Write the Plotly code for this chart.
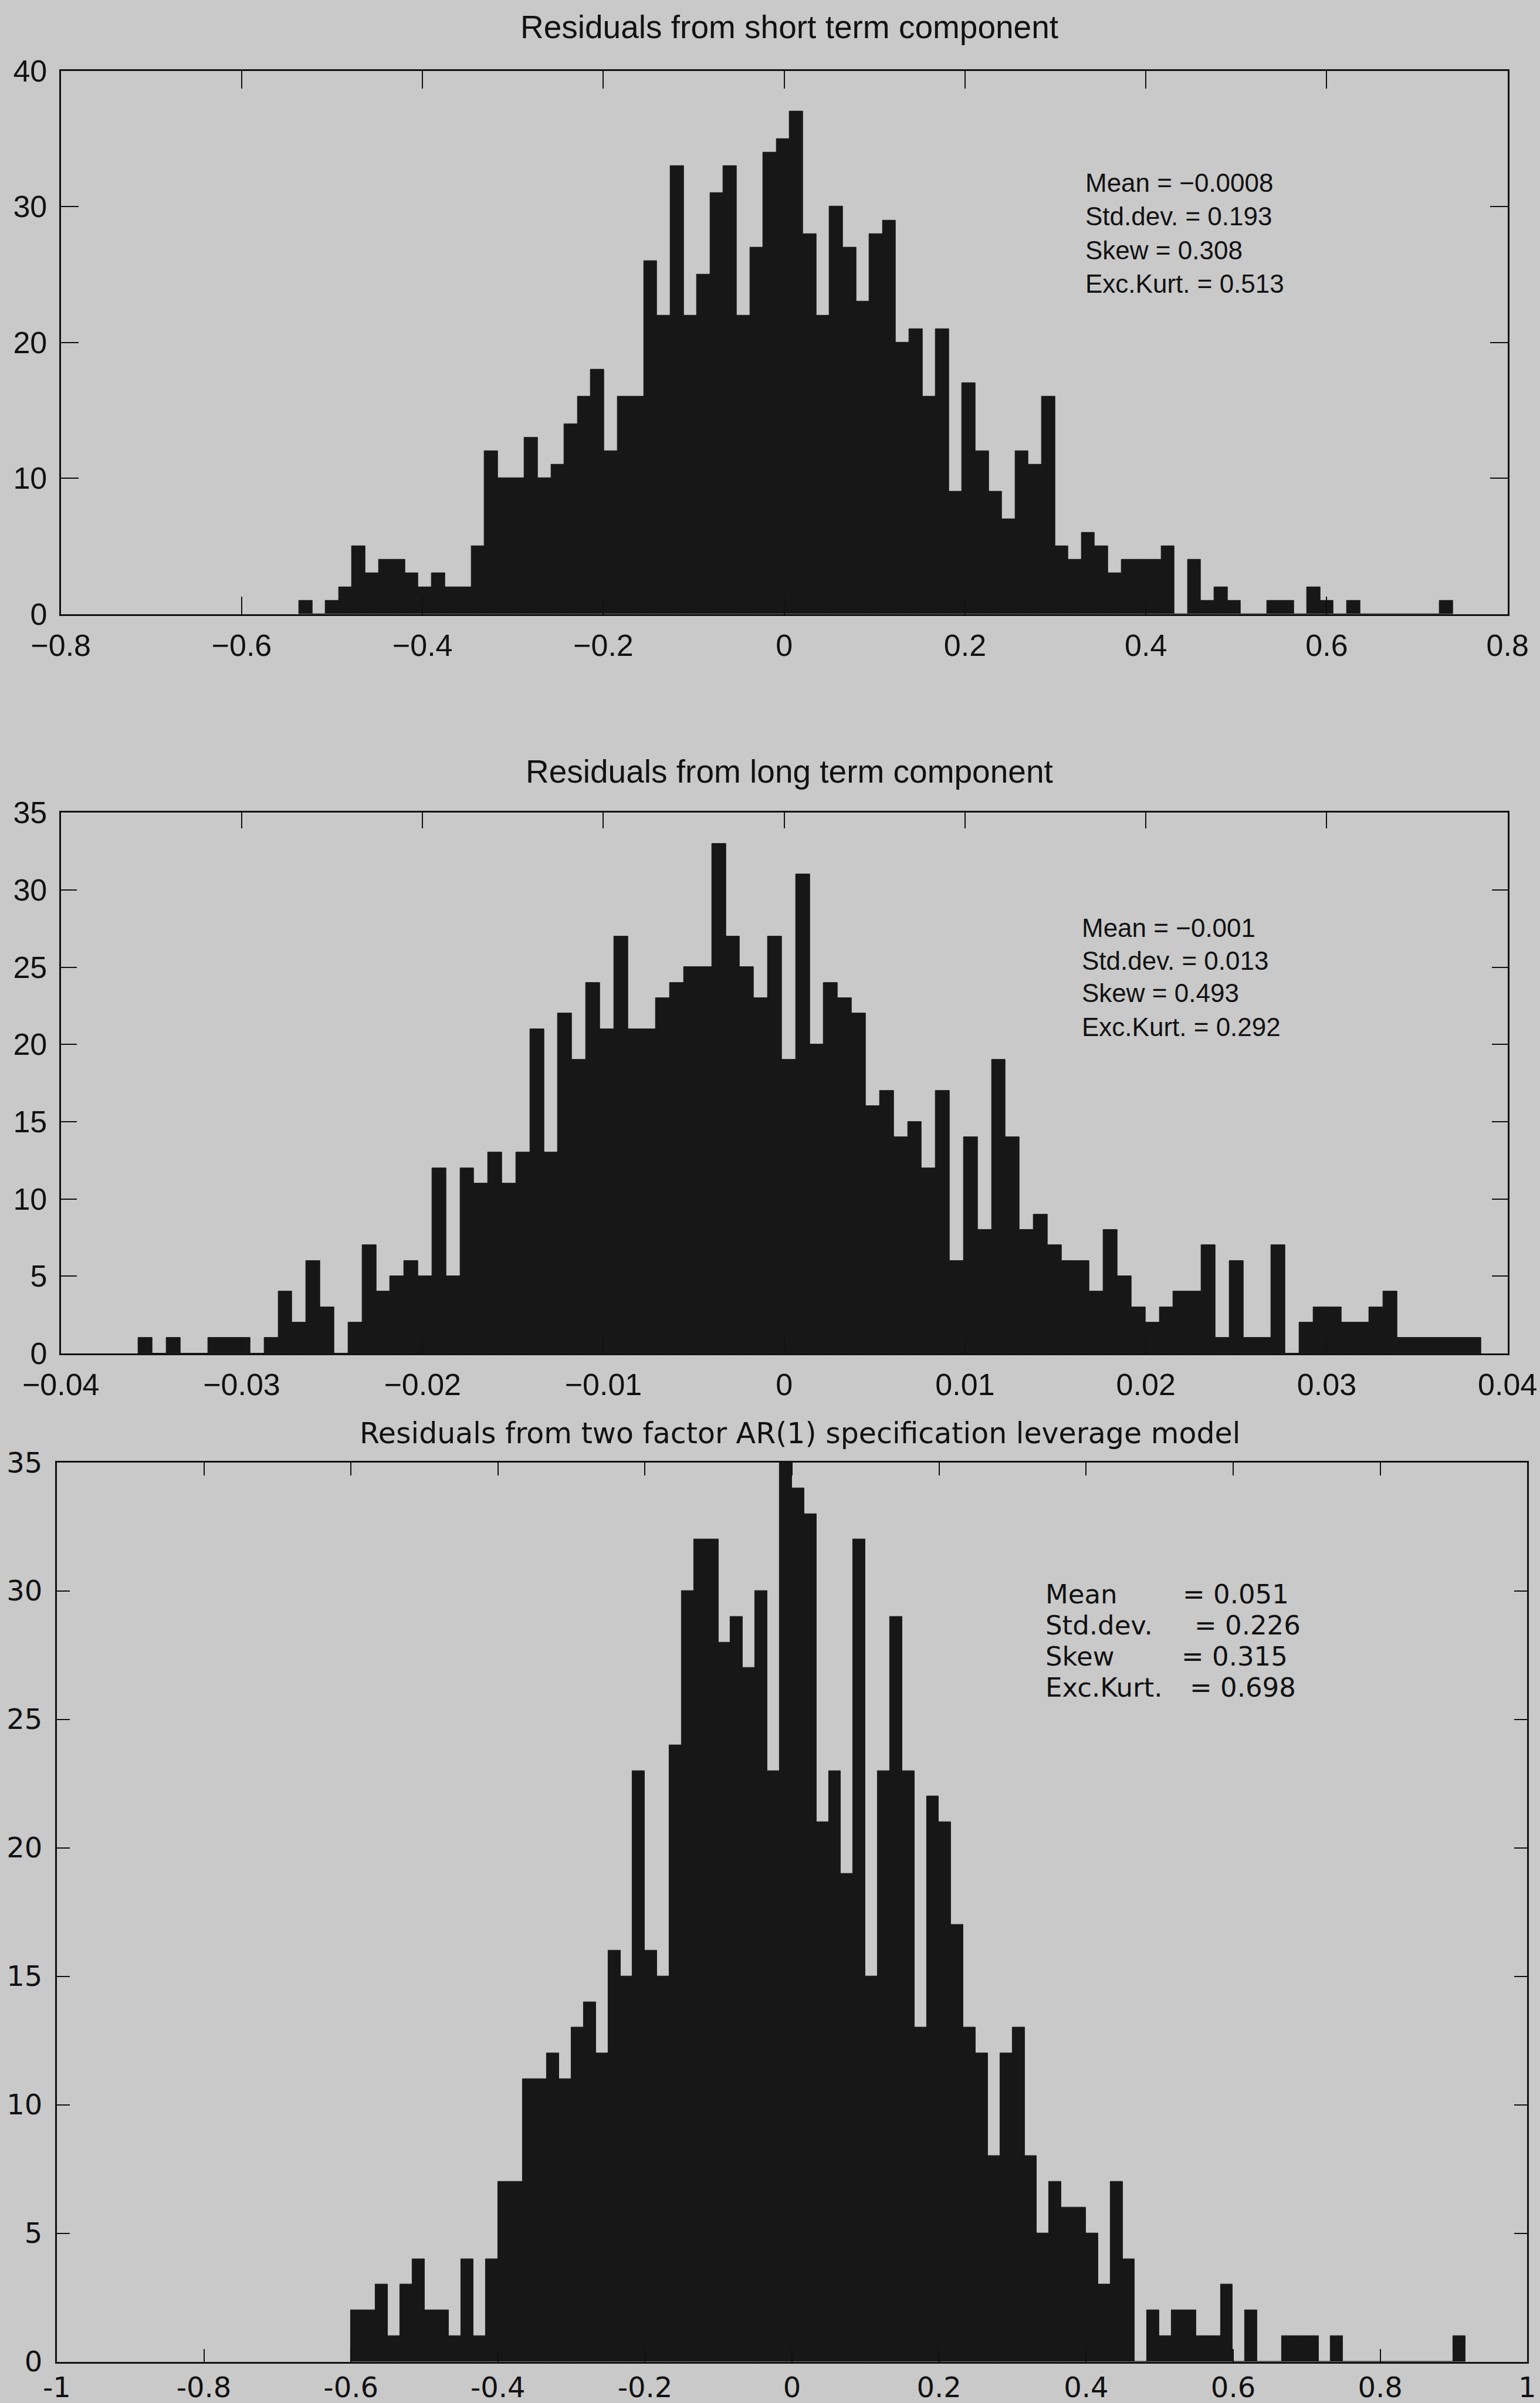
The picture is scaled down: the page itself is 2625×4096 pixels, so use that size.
import numpy as np
import plotly.graph_objects as go

# ---------------- data (counts per histogram bin) ----------------
short_title = "Residuals from short term component"
short_counts = [1, 0, 1, 2, 5, 3, 4, 4, 3, 2,
                3, 2, 2, 5, 12, 10, 10, 13, 10, 11,
                14, 16, 18, 12, 16, 16, 26, 22, 33, 22,
                25, 31, 33, 22, 27, 34, 35, 37, 28, 22,
                30, 27, 23, 28, 29, 20, 21, 16, 21, 9,
                17, 12, 9, 7, 12, 11, 16, 5, 4, 6,
                5, 3, 4, 4, 4, 5, 0, 4, 1, 2,
                1, 0, 0, 1, 1, 0, 2, 1, 0, 1,
                0, 0, 0, 0, 0, 0, 1]
short_bin_range = [-0.5366, 0.7396]
short_stats = ["Mean = \u22120.0008", "Std.dev. = 0.193", "Skew = 0.308", "Exc.Kurt. = 0.513"]

long_title = "Residuals from long term component"
long_counts = [1, 0, 1, 0, 0, 1, 1, 1, 0, 1,
               4, 2, 6, 3, 0, 2, 7, 4, 5, 6,
               5, 12, 5, 12, 11, 13, 11, 13, 21, 13,
               22, 19, 24, 21, 27, 21, 21, 23, 24, 25,
               25, 33, 27, 25, 23, 27, 19, 31, 20, 24,
               23, 22, 16, 17, 14, 15, 12, 17, 6, 14,
               8, 19, 14, 8, 9, 7, 6, 6, 4, 8,
               5, 3, 2, 3, 4, 4, 7, 1, 6, 1,
               1, 7, 0, 2, 3, 3, 2, 2, 3, 4,
               1, 1, 1, 1, 1, 1]
long_bin_range = [-0.03571, 0.03854]
long_stats = ["Mean = \u22120.001", "Std.dev. = 0.013", "Skew = 0.493", "Exc.Kurt. = 0.292"]

ar_title = "Residuals from two factor AR(1) specification leverage model"
ar_counts = [2, 2, 3, 1, 3, 4, 2, 2, 1, 4,
             1, 4, 7, 7, 11, 11, 12, 11, 13, 14,
             12, 16, 15, 23, 16, 15, 24, 30, 32, 32,
             28, 29, 27, 30, 23, 35, 34, 33, 21, 23,
             19, 32, 15, 23, 29, 23, 13, 22, 21, 17,
             13, 12, 8, 12, 13, 8, 5, 7, 6, 6,
             5, 3, 7, 4, 0, 2, 1, 2, 2, 1,
             1, 3, 0, 2, 0, 0, 1, 1, 1, 0,
             1, 0, 0, 0, 0, 0, 0, 0, 0, 0,
             1]
ar_bin_range = [-0.600, 0.916]
ar_stat_labels = ["Mean", "Std.dev.", "Skew", "Exc.Kurt."]
ar_stat_values = ["= 0.051", "= 0.226", "= 0.315", "= 0.698"]
ar_xtick_vals = [-1, -0.8, -0.6, -0.4, -0.2, 0, 0.2, 0.4, 0.6, 0.8, 1]
ar_xtick_text = ["-1", "-0.8", "-0.6", "-0.4", "-0.2", "0", "0.2", "0.4", "0.6", "0.8", "1"]

# ---------------- style ----------------
W, H = 2625, 4096
BG = "#c9c9c9"
BAR = "#171717"
INK = "#111111"
HELV = "Liberation Sans, Arial, Helvetica, sans-serif"
WIDE = "DejaVu Sans, Verdana, sans-serif"


def bins(counts, rng):
    edges = np.linspace(rng[0], rng[1], len(counts) + 1)
    return (edges[:-1] + edges[1:]) / 2.0, (rng[1] - rng[0]) / len(counts)


fig = go.Figure()
for counts, rng, xa, ya in [(short_counts, short_bin_range, "x", "y"),
                            (long_counts, long_bin_range, "x2", "y2"),
                            (ar_counts, ar_bin_range, "x3", "y3")]:
    c, w = bins(counts, rng)
    fig.add_trace(go.Bar(x=c, y=counts, width=w, xaxis=xa, yaxis=ya,
                         marker=dict(color=BAR, line=dict(color=BAR, width=1)),
                         showlegend=False, hoverinfo="skip"))


def px_dom(a, b, total, flip=False):
    if flip:
        return [1 - b / total, 1 - a / total]
    return [a / total, b / total]


def axis(dom, anchor, rng, dtick, ticklen, font, size, standoff=0):
    return dict(domain=dom, anchor=anchor, range=rng, dtick=dtick, tick0=0,
                showgrid=False, zeroline=False, showline=True, linecolor=INK,
                linewidth=3, mirror="ticks", ticks="inside", ticklen=ticklen,
                tickwidth=2, tickcolor=INK, automargin=False,
                tickfont=dict(family=font, size=size, color=INK),
                ticklabelstandoff=standoff, fixedrange=True)


xaxis3 = axis(px_dom(96.9, 2603.3, W), "y3", [-1, 1], 0.2, 22, WIDE, 48, 0)
xaxis3.update(tickmode="array", tickvals=ar_xtick_vals, ticktext=ar_xtick_text)

fig.update_layout(
    width=W, height=H, margin=dict(l=0, r=0, t=0, b=0, pad=0, autoexpand=False),
    paper_bgcolor=BG, plot_bgcolor=BG, bargap=0, barmode="overlay",
    xaxis=axis(px_dom(103.7, 2569.7, W), "y", [-0.8, 0.8], 0.2, 30, HELV, 52, 6),
    yaxis=axis(px_dom(120.8, 1046.6, H, True), "x", [0, 40], 10, 30, HELV, 52, 10),
    xaxis2=axis(px_dom(103.7, 2569.7, W), "y2", [-0.04, 0.04], 0.01, 27, HELV, 52, 6),
    yaxis2=axis(px_dom(1385.2, 2306.9, H, True), "x2", [0, 35], 5, 27, HELV, 52, 10),
    xaxis3=xaxis3,
    yaxis3=axis(px_dom(2492.7, 4025.5, H, True), "x3", [0, 35], 5, 22, WIDE, 48, 12),
)

ann = []
# titles
ann.append(dict(text=short_title, x=1345 / W, y=1 - 45.9 / H, xref="paper", yref="paper",
                xanchor="center", yanchor="middle", showarrow=False,
                font=dict(family=HELV, size=55, color=INK)))
ann.append(dict(text=long_title, x=1345.8 / W, y=1 - 1315 / H, xref="paper", yref="paper",
                xanchor="center", yanchor="middle", showarrow=False,
                font=dict(family=HELV, size=55, color=INK)))
ann.append(dict(text=ar_title, x=1363.5 / W, y=1 - 2443.9 / H, xref="paper", yref="paper",
                xanchor="center", yanchor="middle", showarrow=False,
                font=dict(family=WIDE, size=49, color=INK)))

# statistics boxes
for txt, yv in zip(short_stats, [31.75, 29.28, 26.8, 24.33]):
    ann.append(dict(text=txt, x=0.332, y=yv, xref="x", yref="y", xanchor="left",
                    yanchor="middle", showarrow=False,
                    font=dict(family=HELV, size=44, color=INK)))
for txt, yv in zip(long_stats, [27.53, 25.43, 23.33, 21.13]):
    ann.append(dict(text=txt, x=0.01638, y=yv, xref="x2", yref="y2", xanchor="left",
                    yanchor="middle", showarrow=False,
                    font=dict(family=HELV, size=44, color=INK)))
for lab, val, xv, yv in zip(ar_stat_labels, ar_stat_values,
                            [0.530, 0.546, 0.528, 0.539], [29.87, 28.66, 27.45, 26.24]):
    ann.append(dict(text=lab, x=0.343, y=yv, xref="x3", yref="y3", xanchor="left",
                    yanchor="middle", showarrow=False,
                    font=dict(family=WIDE, size=45, color=INK)))
    ann.append(dict(text=val, x=xv, y=yv, xref="x3", yref="y3", xanchor="left",
                    yanchor="middle", showarrow=False,
                    font=dict(family=WIDE, size=45, color=INK)))

fig.update_layout(annotations=ann)
fig.write_html("out.html")
